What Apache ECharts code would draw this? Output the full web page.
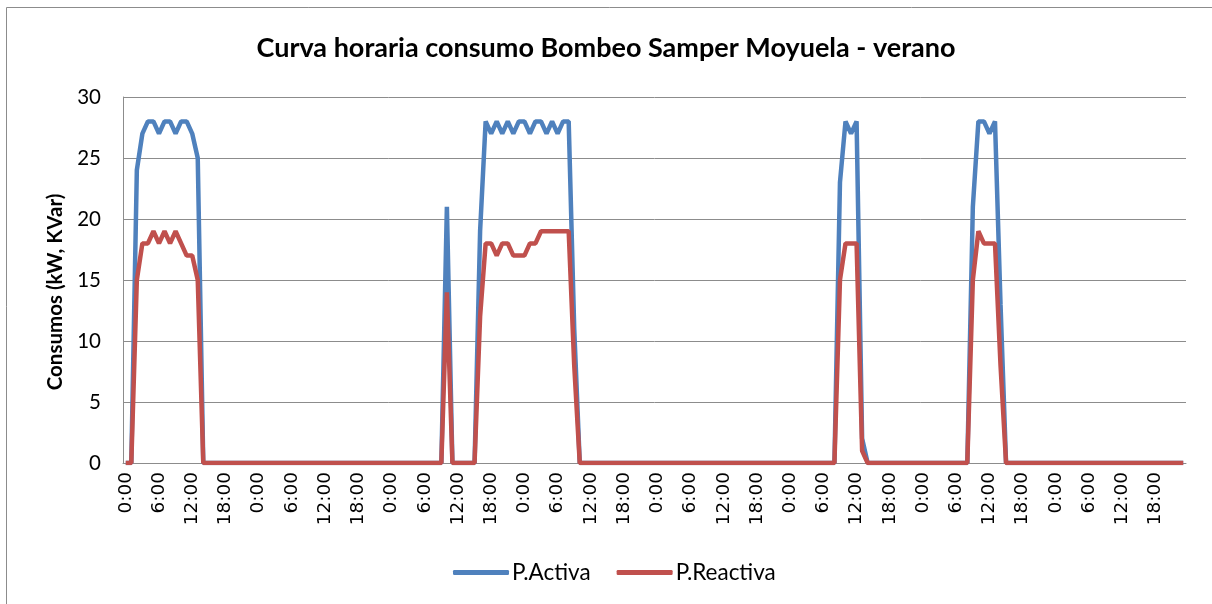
<!DOCTYPE html>
<html>
<head>
    <meta charset="UTF-8">
    <title>Curva horaria consumo Bombeo Samper Moyuela - verano</title>
    <script type="text/javascript" src="https://cdn.jsdelivr.net/npm/echarts@6/dist/echarts.min.js"></script>
    <style>
        html, body { margin: 0; padding: 0; background: #fff; }
        #chart { width: 1212px; height: 604px; }
    </style>
</head>
<body>
<div id="chart"></div>
<script>
    // horas del dia (8 dias, datos horarios)
    var horas = ['0:00','1:00','2:00','3:00','4:00','5:00','6:00','7:00','8:00','9:00','10:00','11:00',
        '12:00','13:00','14:00','15:00','16:00','17:00','18:00','19:00','20:00','21:00','22:00','23:00'];
    var dias = 8;

    // P.Activa (kW), una linea por dia
    var activa = [
        0,0,24,27,28,28,27,28,28,27,28,28,27,25,0,0,0,0,0,0,0,0,0,0,
        0,0,0,0,0,0,0,0,0,0,0,0,0,0,0,0,0,0,0,0,0,0,0,0,
        0,0,0,0,0,0,0,0,0,0,21,0,0,0,0,0,19,28,27,28,27,28,27,28,
        28,27,28,28,27,28,27,28,28,11,0,0,0,0,0,0,0,0,0,0,0,0,0,0,
        0,0,0,0,0,0,0,0,0,0,0,0,0,0,0,0,0,0,0,0,0,0,0,0,
        0,0,0,0,0,0,0,0,0,23,28,27,28,2,0,0,0,0,0,0,0,0,0,0,
        0,0,0,0,0,0,0,0,0,21,28,28,27,28,13,0,0,0,0,0,0,0,0,0,
        0,0,0,0,0,0,0,0,0,0,0,0,0,0,0,0,0,0,0,0,0,0,0,0
    ];

    // P.Reactiva (KVar)
    var reactiva = [
        0,0,15,18,18,19,18,19,18,19,18,17,17,15,0,0,0,0,0,0,0,0,0,0,
        0,0,0,0,0,0,0,0,0,0,0,0,0,0,0,0,0,0,0,0,0,0,0,0,
        0,0,0,0,0,0,0,0,0,0,14,0,0,0,0,0,12,18,18,17,18,18,17,17,
        17,18,18,19,19,19,19,19,19,8,0,0,0,0,0,0,0,0,0,0,0,0,0,0,
        0,0,0,0,0,0,0,0,0,0,0,0,0,0,0,0,0,0,0,0,0,0,0,0,
        0,0,0,0,0,0,0,0,0,15,18,18,18,1,0,0,0,0,0,0,0,0,0,0,
        0,0,0,0,0,0,0,0,0,15,19,18,18,18,8,0,0,0,0,0,0,0,0,0,
        0,0,0,0,0,0,0,0,0,0,0,0,0,0,0,0,0,0,0,0,0,0,0,0
    ];

    var categorias = [];
    for (var d = 0; d < dias; d++) {
        for (var h = 0; h < horas.length; h++) {
            categorias.push(horas[h]);
        }
    }

    var myChart = echarts.init(document.getElementById('chart'));
    myChart.setOption({
        animation: false,
        backgroundColor: '#ffffff',
        title: {
            text: 'Curva horaria consumo Bombeo Samper Moyuela - verano',
            left: 'center',
            top: 30,
            textStyle: {
                fontFamily: 'Lato',
                fontSize: 27,
                fontWeight: 'bold',
                color: '#000'
            }
        },
        legend: {
            data: ['P.Activa', 'P.Reactiva'],
            top: 556,
            left: 448,
            icon: 'roundRect',
            itemWidth: 56,
            itemHeight: 5,
            itemGap: 26,
            textStyle: {
                fontFamily: 'Lato',
                fontSize: 22.5,
                color: '#000',
                padding: [0, 0, 0, -2]
            }
        },
        grid: {
            left: 123,
            right: 26,
            top: 97,
            bottom: 141
        },
        xAxis: {
            type: 'category',
            data: categorias,
            boundaryGap: true,
            axisLine: { lineStyle: { color: '#8c8c8c', width: 1 } },
            axisTick: { show: false },
            axisLabel: {
                interval: 5,
                rotate: 90,
                margin: 9,
                fontFamily: 'DejaVu Sans',
                fontSize: 18.5,
                color: '#000'
            }
        },
        yAxis: {
            type: 'value',
            min: 0,
            max: 30,
            interval: 5,
            name: 'Consumos (kW, KVar)',
            nameLocation: 'middle',
            nameRotate: 90,
            nameGap: 55,
            nameTextStyle: {
                fontFamily: 'Lato',
                fontSize: 20.5,
                fontWeight: 'bold',
                color: '#000',
                padding: [0, 24, 0, 0]
            },
            axisLine: { show: true, lineStyle: { color: '#8c8c8c', width: 1 } },
            axisTick: { show: false },
            splitLine: { lineStyle: { color: '#8c8c8c', width: 1 } },
            axisLabel: {
                margin: 22,
                fontFamily: 'Lato',
                fontSize: 20.5,
                color: '#000'
            }
        },
        graphic: [
            {
                // marco del grafico
                type: 'rect',
                shape: { x: 6.5, y: 7.5, width: 1230, height: 620 },
                style: { fill: 'none', stroke: '#8c8c8c', lineWidth: 1 },
                silent: true
            },
            {
                // recorte de las etiquetas largas como en el original
                type: 'rect',
                z: 100,
                shape: { x: 100, y: 531, width: 1100, height: 20 },
                style: { fill: '#ffffff' },
                silent: true
            }
        ],
        series: [
            {
                name: 'P.Activa',
                type: 'line',
                data: activa,
                showSymbol: false,
                symbol: 'none',
                lineStyle: { color: '#4f81bd', width: 4.5 },
                itemStyle: { color: '#4f81bd' }
            },
            {
                name: 'P.Reactiva',
                type: 'line',
                data: reactiva,
                showSymbol: false,
                symbol: 'none',
                lineStyle: { color: '#c0504d', width: 4.5 },
                itemStyle: { color: '#c0504d' }
            }
        ]
    });
</script>
</body>
</html>
